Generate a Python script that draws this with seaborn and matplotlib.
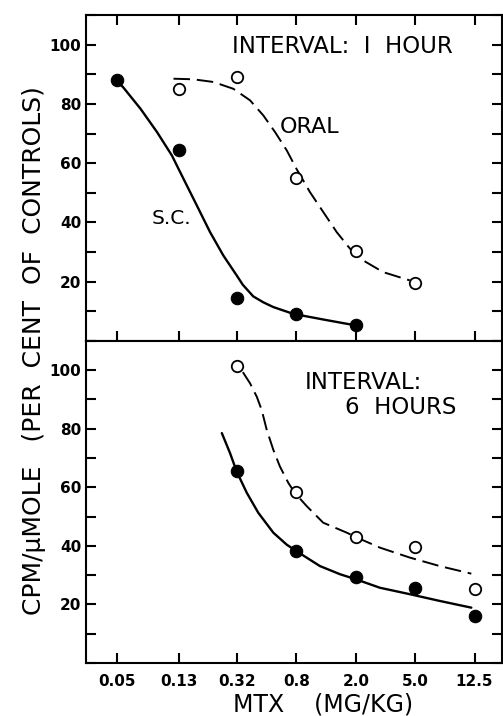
import numpy as np
import pandas as pd
import matplotlib
matplotlib.use("Agg")
import matplotlib.pyplot as plt
from matplotlib.ticker import FixedLocator, MultipleLocator, NullFormatter
import seaborn as sns

# dose axis (mg/kg), log-spaced by 2.5
doses = [0.05, 0.13, 0.32, 0.8, 2.0, 5.0, 12.5]
dose_labels = ["0.05", "0.13", "0.32", "0.8", "2.0", "5.0", "12.5"]

# 1 hour interval - measured points
sc_1h_x = [0.05, 0.13, 0.32, 0.8, 2.0]
sc_1h_y = [88, 64.5, 14.5, 9, 5.2]
oral_1h_x = [0.13, 0.32, 0.8, 2.0, 5.0]
oral_1h_y = [85, 89, 55, 30.2, 19.5]

# 1 hour interval - hand drawn curves
sc_1h_curve_x = [0.05, 0.055, 0.072, 0.093, 0.117, 0.14, 0.172, 0.211, 0.259,
                 0.318, 0.35, 0.411, 0.48, 0.56, 0.762, 1.24, 2.0]
sc_1h_curve_y = [87.6, 85.7, 78.4, 70.5, 62.6, 54.7, 45.7, 36.7, 28.8,
                 22.1, 18.9, 15.0, 13.0, 11.4, 9.1, 7.1, 5.2]
oral_1h_curve_x = [0.12, 0.163, 0.222, 0.302, 0.391, 0.48, 0.575, 0.689, 0.80,
                   0.986, 1.21, 1.49, 1.83, 2.25, 3.05, 4.6]
oral_1h_curve_y = [88.5, 88.3, 87.4, 85.1, 81.2, 76.1, 70.5, 64.3, 58.1,
                   50.2, 43.5, 36.7, 31.1, 27.1, 23.2, 20.4]

# 6 hour interval - measured points
sc_6h_x = [0.32, 0.8, 2.0, 5.0, 12.5]
sc_6h_y = [65.5, 38.2, 29.4, 25.7, 16]
oral_6h_x = [0.32, 0.8, 2.0, 5.0, 12.5]
oral_6h_y = [101.5, 58.3, 43.1, 39.7, 25.2]

# 6 hour interval - hand drawn curves
sc_6h_curve_x = [0.253, 0.287, 0.318, 0.372, 0.444, 0.56, 0.689, 0.80, 1.15,
                 1.57, 2.0, 2.9, 4.6, 7.3, 11.9]
sc_6h_curve_y = [78.5, 71.7, 65.4, 58.1, 51.3, 44.5, 40.4, 38.2, 33.1,
                 30.3, 28.6, 25.7, 23.5, 21.2, 18.9]
oral_6h_curve_x = [0.35, 0.391, 0.434, 0.468, 0.506, 0.56, 0.62, 0.706, 0.78,
                   0.94, 1.21, 1.74, 2.0, 2.9, 4.6, 7.3, 11.9]
oral_6h_curve_y = [99.3, 95.5, 90.9, 86.4, 79.6, 72.8, 67.1, 61.5, 58.1,
                   53.5, 47.9, 44.5, 43.0, 39.4, 36.0, 33.1, 30.5]

sns.set_theme(style="ticks")
plt.rcParams['font.family'] = ['DejaVu Sans']
plt.rcParams['axes.linewidth'] = 1.5
plt.rcParams['text.color'] = 'black'
plt.rcParams['xtick.color'] = 'black'
plt.rcParams['ytick.color'] = 'black'

fig = plt.figure(figsize=(5.03, 7.16), dpi=100)
ax_top = fig.add_axes([0.171, 0.524, 0.827, 0.455])
ax_bot = fig.add_axes([0.171, 0.074, 0.827, 0.450])

DASH = (0, (8.5, 3.5))


def draw_panel(ax, sc_x, sc_y, oral_x, oral_y, sc_cx, sc_cy, oral_cx, oral_cy):
    sc_curve = pd.DataFrame({"x": sc_cx, "y": sc_cy})
    oral_curve = pd.DataFrame({"x": oral_cx, "y": oral_cy})
    sns.lineplot(data=sc_curve, x="x", y="y", ax=ax, color="black",
                 linewidth=1.7, sort=False, estimator=None, zorder=2)
    line = sns.lineplot(data=oral_curve, x="x", y="y", ax=ax, color="black",
                        linewidth=1.4, sort=False, estimator=None, zorder=2).lines[-1]
    line.set_linestyle(DASH)
    sns.scatterplot(x=sc_x, y=sc_y, ax=ax, color="black", s=80,
                    edgecolor="black", linewidth=0.8, zorder=3)
    sns.scatterplot(x=oral_x, y=oral_y, ax=ax, color="white", s=68,
                    edgecolor="black", linewidth=1.3, zorder=3)

    ax.set_xscale("log")
    ax.set_xlim(0.0311, 19.1)
    ax.set_ylim(0, 110)
    ax.xaxis.set_major_locator(FixedLocator(doses))
    ax.xaxis.set_minor_locator(FixedLocator([]))
    ax.yaxis.set_major_locator(FixedLocator([20, 40, 60, 80, 100]))
    ax.yaxis.set_minor_locator(MultipleLocator(10))
    ax.yaxis.set_minor_formatter(NullFormatter())
    ax.tick_params(axis="both", which="both", direction="in", length=7,
                   width=1.5, color="black")
    ax.tick_params(axis="y", which="both", left=True, right=True, labelsize=11)
    ax.set_xlabel("")
    ax.set_ylabel("")
    for lab in ax.get_yticklabels():
        lab.set_fontweight("bold")
    for sp in ax.spines.values():
        sp.set_visible(True)
        sp.set_color("black")


draw_panel(ax_top, sc_1h_x, sc_1h_y, oral_1h_x, oral_1h_y,
           sc_1h_curve_x, sc_1h_curve_y, oral_1h_curve_x, oral_1h_curve_y)
draw_panel(ax_bot, sc_6h_x, sc_6h_y, oral_6h_x, oral_6h_y,
           sc_6h_curve_x, sc_6h_curve_y, oral_6h_curve_x, oral_6h_curve_y)

ax_top.tick_params(axis="x", top=True, bottom=True, labelbottom=False)
ax_bot.tick_params(axis="x", top=False, bottom=True, labelbottom=True, pad=8)
ax_bot.set_xticklabels(dose_labels, fontsize=11, fontweight="bold")

# annotations
ax_top.text(0.296, 99.5, "INTERVAL:  I  HOUR", fontsize=16.5, ha="left", va="center")
ax_top.text(0.62, 72.3, "ORAL", fontsize=16, ha="left", va="center")
ax_top.text(0.086, 41.2, "S.C.", fontsize=14.5, ha="left", va="center")
ax_bot.text(0.915, 95.6, "INTERVAL:", fontsize=16.5, ha="left", va="center")
ax_bot.text(1.69, 87.4, "6  HOURS", fontsize=16.5, ha="left", va="center")

fig.text(0.068, 0.51, "CPM/\u03bcMOLE   (PER  CENT  OF  CONTROLS)", rotation=90,
         fontsize=18, ha="center", va="center")
fig.text(0.643, 0.0155, "MTX    (MG/KG)", fontsize=17, ha="center", va="center")

fig.savefig("out.png", dpi=100)
